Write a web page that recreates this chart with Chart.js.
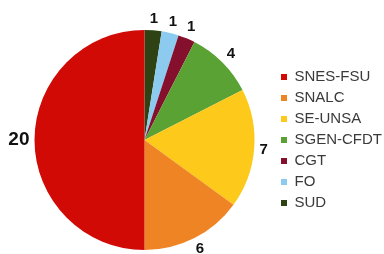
<!DOCTYPE html>
<html>
<head>
<meta charset="utf-8">
<script src="https://cdn.jsdelivr.net/npm/chart.js@4"></script>
<style>
  body { margin: 0; background: #fff; }
  canvas { display: block; }
</style>
</head>
<body>
<canvas id="grafico" width="384" height="254"></canvas>
<script>
// donnees du graphique (ordre de la legende)
const syndicats = ['SNES-FSU', 'SNALC', 'SE-UNSA', 'SGEN-CFDT', 'CGT', 'FO', 'SUD'];
const sieges = [20, 6, 7, 4, 1, 1, 1];
const couleurs = ['#d20a05', '#ee8424', '#fdc91a', '#5aa234', '#84102e', '#8ccbef', '#2f4214'];

// le camembert tourne dans le sens inverse des aiguilles : on inverse les tableaux
const labelsInv = syndicats.slice().reverse();
const valeursInv = sieges.slice().reverse();
const couleursInv = couleurs.slice().reverse();

// etiquettes de valeurs a l'exterieur des parts
const etiquettes = {
    id: 'etiquettes',
    afterDatasetsDraw(chart) {
        const ctx = chart.ctx;
        const meta = chart.getDatasetMeta(0);
        ctx.save();
        ctx.fillStyle = '#111';
        ctx.textAlign = 'center';
        ctx.textBaseline = 'middle';
        meta.data.forEach((arc, i) => {
            const v = valeursInv[i];
            const taille = v >= 20 ? 19 : 15;
            ctx.font = 'bold ' + taille + 'px "Liberation Sans", Arial, sans-serif';
            const p = arc.getProps(['x', 'y', 'startAngle', 'endAngle', 'outerRadius'], true);
            const a = (p.startAngle + p.endAngle) / 2;
            const txt = String(v);
            const hw = ctx.measureText(txt).width / 2;
            const hh = taille * 0.4;
            const d = p.outerRadius + 5 + Math.abs(Math.cos(a)) * hw + Math.abs(Math.sin(a)) * hh;
            ctx.fillText(txt, p.x + Math.cos(a) * d, p.y + Math.sin(a) * d);
        });
        ctx.restore();
    }
};

const ctx = document.getElementById('grafico').getContext('2d');
new Chart(ctx, {
    type: 'pie',
    data: {
        labels: labelsInv,
        datasets: [{
            data: valeursInv,
            backgroundColor: couleursInv,
            borderWidth: 0
        }]
    },
    options: {
        responsive: false,
        animation: false,
        layout: {
            padding: { left: 14, right: -8, top: 30, bottom: 4 }
        },
        plugins: {
            legend: {
                position: 'right',
                reverse: true,
                labels: {
                    boxWidth: 6,
                    boxHeight: 6,
                    padding: 6,
                    color: '#3a3a3a',
                    font: { family: '"Liberation Sans", Arial, sans-serif', size: 15 }
                }
            },
            tooltip: { enabled: false }
        }
    },
    plugins: [etiquettes]
});
</script>
</body>
</html>
